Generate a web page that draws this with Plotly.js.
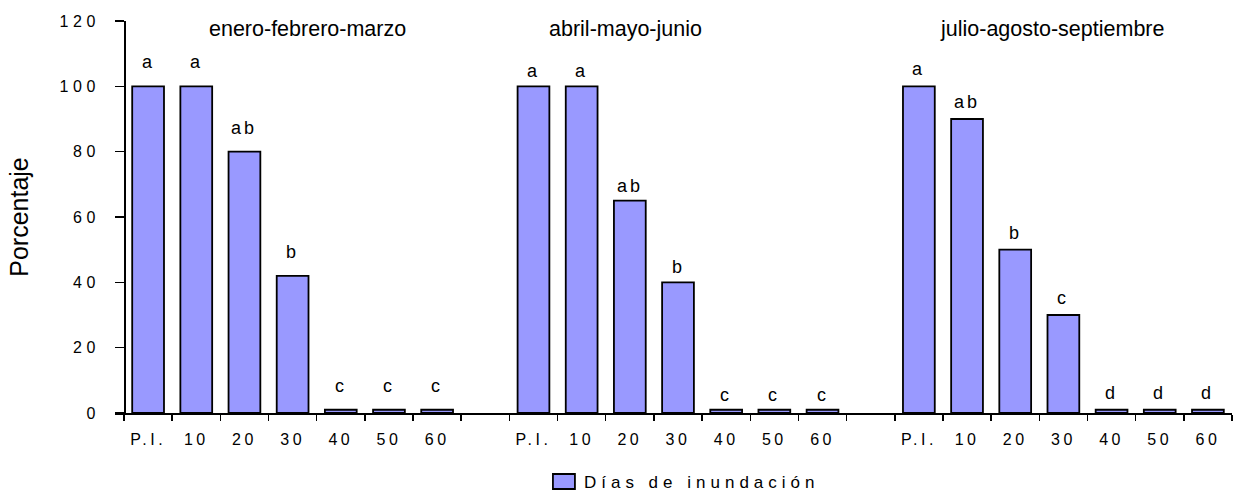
<!DOCTYPE html>
<html>
<head>
<meta charset="utf-8">
<script src="https://cdn.plot.ly/plotly-3.0.1.min.js"></script>
<style>
  html, body { margin: 0; padding: 0; background: #fff; }
  #chart { width: 1234px; height: 495px; }
  /* widely tracked labels, as in the original spreadsheet chart */
  .xtick text { letter-spacing: 3.5px; }
  .ytick text { letter-spacing: 4.5px; }
  .legendtext { letter-spacing: 5px; }
  /* wider legend swatch */
  .legendpoints path { d: path('M11,7.5H-11V-7.5H11Z'); }
</style>
</head>
<body>
<div id="chart"></div>
<script>
// Flooding periods and days of flooding
const periods = ['enero-febrero-marzo', 'abril-mayo-junio', 'julio-agosto-septiembre'];
const dayLabels = ['P.I.', '10', '20', '30', '40', '50', '60'];

// Percentage per period
const pctEneMar = [100, 100, 80, 42, 1, 1, 1];
const pctAbrJun = [100, 100, 65, 40, 1, 1, 1];
const pctJulSep = [100, 90, 50, 30, 1, 1, 1];

// Significance letters per period
const lettersEneMar = ['a', 'a', 'ab', 'b', 'c', 'c', 'c'];
const lettersAbrJun = ['a', 'a', 'ab', 'b', 'c', 'c', 'c'];
const lettersJulSep = ['a', 'ab', 'b', 'c', 'd', 'd', 'd'];

const seriesName = 'Días de inundación';
const yTitle = 'Porcentaje';
const yTicks = [0, 20, 40, 60, 80, 100, 120];

const FONT = 'Liberation Sans, Arial, Helvetica, sans-serif';
const groupValues = [pctEneMar, pctAbrJun, pctJulSep];
const groupLetters = [lettersEneMar, lettersAbrJun, lettersJulSep];
const slot = dayLabels.length + 1; // one empty slot between periods
const letterLift = [12, 3, 5];      // px between bar top and its letter, per period

const xs = [], ys = [], tickText = [], letterAnn = [];
groupValues.forEach((vals, g) => {
  vals.forEach((v, i) => {
    const x = g * slot + i;
    xs.push(x);
    ys.push(v);
    tickText.push(dayLabels[i]);
    letterAnn.push({
      x: x, y: v, xref: 'x', yref: 'y',
      yanchor: 'bottom', yshift: letterLift[g], showarrow: false,
      text: '<span style="letter-spacing:3px">' + groupLetters[g][i] + '</span>',
      font: { family: FONT, size: 18, color: '#000' }
    });
  });
});

const xMax = 3 * slot - 1 - 0.5;
const xMin = -0.687;
const yAxisPos = (-0.5 - xMin) / (xMax - xMin);

// Period headings
const titleX = [3.30, 9.92, 18.77];
const titleAnn = periods.map((p, g) => ({
  x: titleX[g], y: 117.5, xref: 'x', yref: 'y',
  xanchor: 'center', yanchor: 'middle', showarrow: false,
  text: p, font: { family: FONT, size: 21.5, color: '#000' }
}));

const trace = {
  type: 'bar', name: seriesName,
  x: xs, y: ys, width: 0.66,
  marker: { color: '#9999FF', line: { color: '#000', width: 1.8 } },
  hoverinfo: 'x+y'
};

const layout = {
  width: 1234, height: 495,
  margin: { l: 115, r: 2, t: 21, b: 82, autoexpand: false },
  paper_bgcolor: '#fff', plot_bgcolor: '#fff',
  font: { family: FONT, color: '#000' },
  showlegend: true,
  legend: {
    orientation: 'h', x: 0.384, xanchor: 'left', y: -0.13, yanchor: 'top',
    font: { family: FONT, size: 17, color: '#000' }
  },
  xaxis: {
    range: [xMin, xMax], showgrid: false, zeroline: false,
    showline: true, linecolor: '#000', linewidth: 1.5,
    tickmode: 'array', tickvals: xs, ticktext: tickText,
    ticks: '', ticklabelstandoff: 11,
    tickfont: { family: FONT, size: 16, color: '#000' },
    minor: { tickmode: 'linear', tick0: 0.5, dtick: 1, ticks: 'outside', ticklen: 6, tickwidth: 1.5, tickcolor: '#000', showgrid: false }
  },
  yaxis: {
    range: [0, 120], anchor: 'free', position: yAxisPos,
    showgrid: false, zeroline: false,
    showline: true, linecolor: '#000', linewidth: 1.5,
    tickmode: 'array', tickvals: yTicks,
    ticks: 'outside', ticklen: 9, tickwidth: 1.5, tickcolor: '#000',
    ticklabelstandoff: 12,
    tickfont: { family: FONT, size: 16, color: '#000' },
    title: { text: yTitle, standoff: 22, font: { family: FONT, size: 25, color: '#000' } }
  },
  annotations: titleAnn.concat(letterAnn)
};

Plotly.newPlot('chart', [trace], layout, { displayModeBar: false, staticPlot: true });
</script>
</body>
</html>
